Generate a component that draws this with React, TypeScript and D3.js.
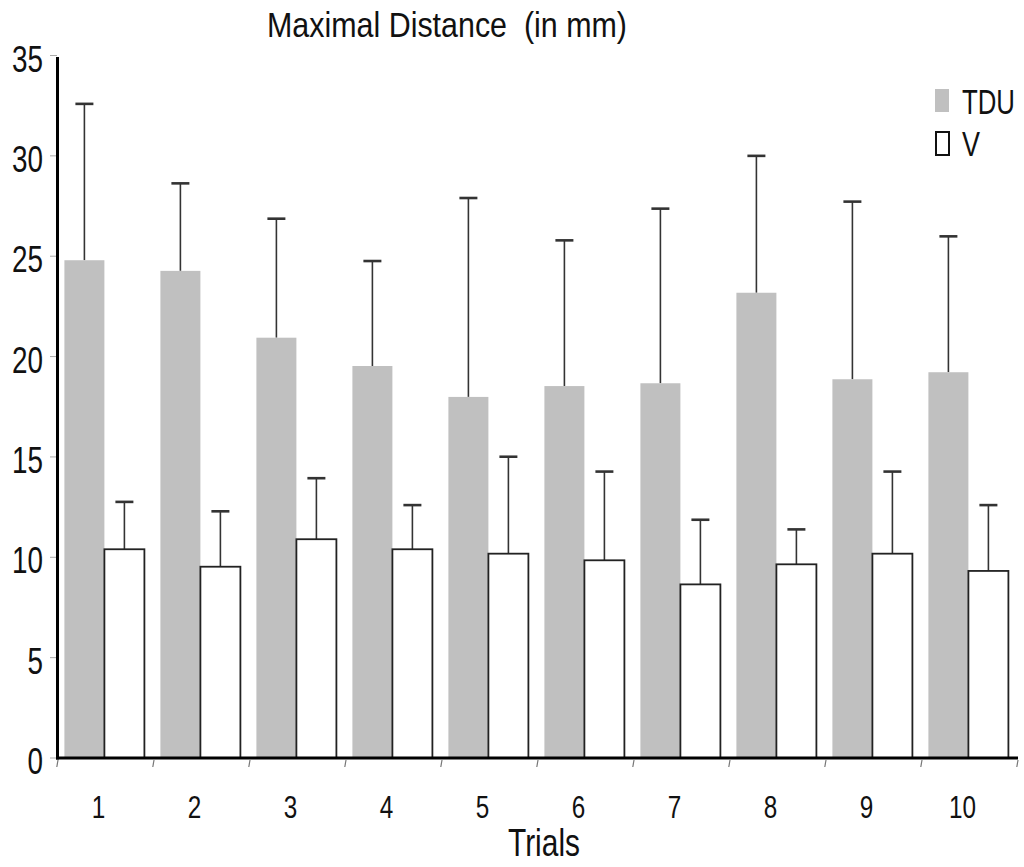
import React, { useRef, useEffect } from 'react';
import * as d3 from 'd3';

const trials = ['1', '2', '3', '4', '5', '6', '7', '8', '9', '10'];
const seriesNames = ['TDU', 'V'];
const tduMean = [24.8, 24.27, 20.94, 19.53, 17.99, 18.53, 18.67, 23.18, 18.87, 19.22];
const tduSd = [7.79, 4.36, 5.93, 5.23, 9.91, 7.26, 8.7, 6.82, 8.85, 6.77];
const vMean = [10.4, 9.53, 10.9, 10.4, 10.18, 9.85, 8.65, 9.65, 10.18, 9.32];
const vSd = [2.36, 2.76, 3.04, 2.2, 4.83, 4.42, 3.22, 1.74, 4.09, 3.28];
const yTicks = [0, 5, 10, 15, 20, 25, 30, 35];

const W = 1024;
const H = 867;
const FONT = '"Liberation Sans", Arial, sans-serif';

const App = () => {
  const svgRef = useRef(null);

  useEffect(() => {
    const svg = d3.select(svgRef.current);
    svg.selectAll('*').remove();

    const left = 58, right = 1018, bottom = 758, top = 55.5;

    const x = d3.scaleBand().domain(trials).range([left, right])
      .paddingInner(1 / 6).paddingOuter(1 / 12).align(0.4);
    const xs = d3.scaleBand().domain(seriesNames).range([0, x.bandwidth()]);
    const y = d3.scaleLinear().domain([0, 35]).range([bottom, top]);

    const rows = trials.map((t, i) => ({
      trial: t,
      vals: [
        { key: 'TDU', mean: tduMean[i], sd: tduSd[i] },
        { key: 'V', mean: vMean[i], sd: vSd[i] },
      ],
    }));

    // helper: compressed text, like the original figure
    const text = (str, px, py, size, len, anchor = 'start') =>
      svg.append('text')
        .attr('x', px).attr('y', py)
        .attr('font-family', FONT).attr('font-size', size)
        .attr('text-anchor', anchor)
        .attr('textLength', len).attr('lengthAdjust', 'spacingAndGlyphs')
        .style('white-space', 'pre')
        .attr('fill', '#111')
        .text(str);

    // title
    text('Maximal Distance  (in mm)', 267, 37, 35, 360);

    // bars
    const groups = svg.append('g').selectAll('g').data(rows).enter().append('g')
      .attr('transform', d => `translate(${x(d.trial)},0)`);

    // error bars (drawn first so the bar tops sit over them)
    groups.selectAll('.err').data(d => d.vals).enter().append('line')
      .attr('x1', d => xs(d.key) + xs.bandwidth() / 2)
      .attr('x2', d => xs(d.key) + xs.bandwidth() / 2)
      .attr('y1', d => y(d.mean)).attr('y2', d => y(d.mean + d.sd))
      .attr('stroke', '#333').attr('stroke-width', 1.6);
    groups.selectAll('.cap').data(d => d.vals).enter().append('line')
      .attr('x1', d => xs(d.key) + xs.bandwidth() / 2 - 9)
      .attr('x2', d => xs(d.key) + xs.bandwidth() / 2 + 9)
      .attr('y1', d => y(d.mean + d.sd)).attr('y2', d => y(d.mean + d.sd))
      .attr('stroke', '#333').attr('stroke-width', 2.6);

    groups.selectAll('.bar').data(d => d.vals).enter().append('rect')
      .attr('x', d => xs(d.key))
      .attr('y', d => y(d.mean))
      .attr('width', xs.bandwidth())
      .attr('height', d => bottom - y(d.mean))
      .attr('fill', d => d.key === 'TDU' ? '#c0c0c0' : '#fff')
      .attr('stroke', d => d.key === 'TDU' ? 'none' : '#222')
      .attr('stroke-width', 1.8);

    // y axis
    svg.append('g').selectAll('line').data(yTicks).enter().append('line')
      .attr('x1', 50).attr('x2', 57)
      .attr('y1', d => y(d)).attr('y2', d => y(d))
      .attr('stroke', '#aaa').attr('stroke-width', 1);
    yTicks.forEach(t => {
      const s = String(t);
      text(s, 43, y(t) + 16, 37, s.length * 15.5, 'end');
    });
    svg.append('line')
      .attr('x1', 57.5).attr('x2', 57.5).attr('y1', 57).attr('y2', bottom + 1.5)
      .attr('stroke', '#000').attr('stroke-width', 3);

    // x axis
    const bounds = trials.map(t => x(t) - x.step() * (1 / 6) * 0.4).concat([right]);
    svg.append('g').selectAll('line').data(bounds).enter().append('line')
      .attr('x1', d => d).attr('x2', d => d - 1.2)
      .attr('y1', bottom + 2).attr('y2', bottom + 9)
      .attr('stroke', '#777').attr('stroke-width', 1.2);
    svg.append('line')
      .attr('x1', 56).attr('x2', right).attr('y1', bottom).attr('y2', bottom)
      .attr('stroke', '#000').attr('stroke-width', 3);

    trials.forEach(t => {
      text(t, x(t) + xs.bandwidth() - 6, 818, 32, t.length * 13.5, 'middle');
    });
    text('Trials', 544, 856, 39, 72, 'middle');

    // legend
    svg.append('rect').attr('x', 935).attr('y', 89).attr('width', 14).attr('height', 23)
      .attr('fill', '#c0c0c0');
    text('TDU', 962, 114, 35, 53);
    svg.append('rect').attr('x', 936).attr('y', 132).attr('width', 13).attr('height', 23)
      .attr('fill', '#fff').attr('stroke', '#111').attr('stroke-width', 2);
    text('V', 962, 156, 35, 18);
  }, []);

  return (
    <svg ref={svgRef} width={W} height={H}
      style={{ position: 'absolute', left: 0, top: 0, background: '#fff' }} />
  );
};

export default App;
